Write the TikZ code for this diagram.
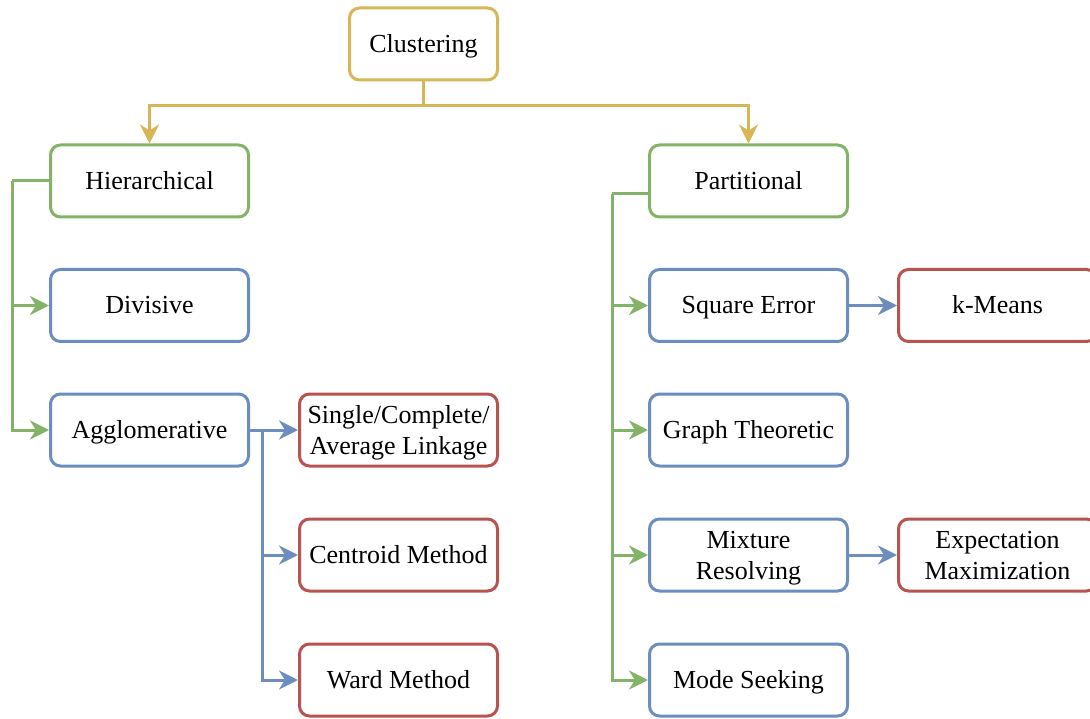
\documentclass[tikz,border=0pt]{standalone}
\usepackage{fontspec}
\setmainfont{Liberation Serif}
\usetikzlibrary{arrows.meta}
\definecolor{cyel}{HTML}{D6B656}
\definecolor{cgrn}{HTML}{82B366}
\definecolor{cblu}{HTML}{6C8EBF}
\definecolor{cred}{HTML}{B85450}
\begin{document}
\begin{tikzpicture}[x=1pt,y=-1pt,
  box/.style={draw, rounded corners=10pt, line width=3pt, fill=white,
    minimum width=198pt, minimum height=72pt, inner sep=0pt, align=center,
    text depth=0pt, font=\fontsize{26}{31}\selectfont},
  one/.style={text height=17pt},
  lvl0/.style={box, one, draw=cyel, minimum width=148pt},
  lvl1/.style={box, one, draw=cgrn},
  lvl2/.style={box, draw=cblu},
  lvl3/.style={box, draw=cred},
  link/.style={line width=3pt, -{Stealth[length=19pt,width=19pt,inset=6pt]}},
  wire/.style={line width=3pt}]
\useasboundingbox (0,0) rectangle (1090,719);

% boxes
\node[lvl0] (clu)  at (423.5,44)  {Clustering};
\node[lvl1] (hier) at (149.5,181) {Hierarchical};
\node[lvl2, one] (div)  at (149.5,305.5) {Divisive};
\node[lvl2, one] (agg)  at (149.5,430) {Agglomerative};
\node[lvl3] (sing) at (398.5,430) {Single/Complete/\\Average Linkage};
\node[lvl3, one] (cent) at (398.5,555) {Centroid Method};
\node[lvl3, one] (ward) at (398.5,680) {Ward Method};

\node[lvl1] (part) at (748.5,181) {Partitional};
\node[lvl2, one] (sqe)  at (748.5,305.5) {Square Error};
\node[lvl3, one] (kme)  at (997.5,305.5) {k-Means};
\node[lvl2, one] (gth)  at (748.5,430) {Graph Theoretic};
\node[lvl2] (mix)  at (748.5,555) {Mixture\\Resolving};
\node[lvl3] (emx)  at (997.5,555) {Expectation\\Maximization};
\node[lvl2, one] (mode) at (748.5,680) {Mode Seeking};

% junction points
\coordinate (split) at (423.5,106);
\coordinate (hbus) at (12,181);
\coordinate (pbus) at (612,194);
\coordinate (abus) at (262,430);

% top level
\draw[wire, cyel] (clu.south) -- (split);
\draw[link, cyel] (split) -| (hier.north);
\draw[link, cyel] (split) -| (part.north);

% hierarchical branch
\draw[wire, cgrn] (hier.west) -- (hbus);
\draw[link, cgrn] (hbus) |- (div.west);
\draw[link, cgrn] (hbus) |- (agg.west);

% agglomerative branch
\draw[link, cblu] (agg.east) -- (sing.west);
\draw[link, cblu] (abus) |- (cent.west);
\draw[link, cblu] (abus) |- (ward.west);

% partitional branch
\draw[wire, cgrn] (part.west |- pbus) -- (pbus);
\draw[link, cgrn] (pbus) |- (sqe.west);
\draw[link, cgrn] (pbus) |- (gth.west);
\draw[link, cgrn] (pbus) |- (mix.west);
\draw[link, cgrn] (pbus) |- (mode.west);

% leaves
\draw[link, cblu] (sqe.east) -- (kme.west);
\draw[link, cblu] (mix.east) -- (emx.west);
\end{tikzpicture}
\end{document}
